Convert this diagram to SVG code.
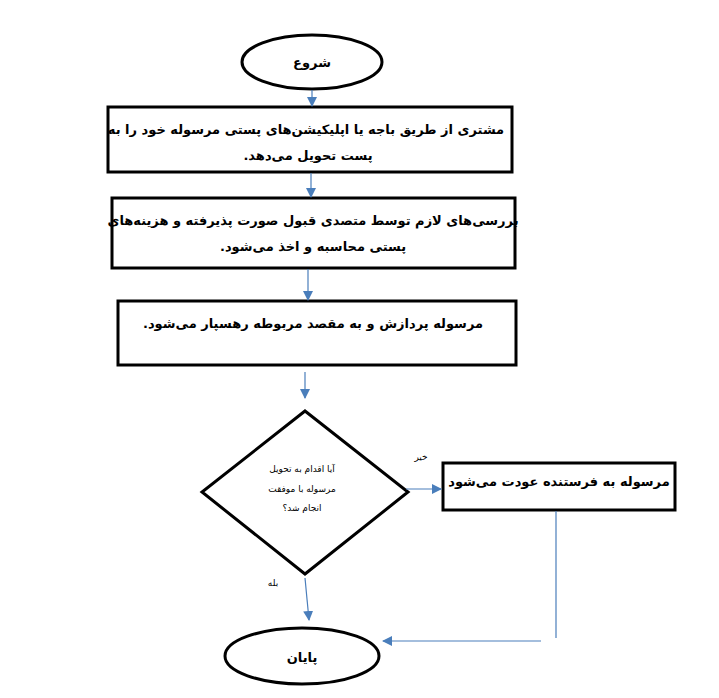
<svg xmlns="http://www.w3.org/2000/svg" width="719" height="698" viewBox="0 0 719 698">
<style>
.s{fill:#fff;stroke:#000;stroke-width:3}
.t{font-family:"DejaVu Sans",sans-serif;font-size:13px;font-weight:bold;text-anchor:middle;fill:#000}
.sm{font-family:"DejaVu Sans",sans-serif;font-size:9px;text-anchor:middle;fill:#000}
.c{stroke:#4a7ebb;stroke-width:1.2;fill:none}
</style>
<defs><marker id="a" markerWidth="10" markerHeight="10" refX="9" refY="5" orient="auto" markerUnits="userSpaceOnUse"><path d="M0,0L10,5L0,10z" fill="#4a7ebb"/></marker></defs>
<rect width="719" height="698" fill="#fff"/>
<g id="start"><ellipse class="s" cx="312" cy="62" rx="70" ry="27"/><text class="t" x="312" y="67" direction="rtl">شروع</text></g>
<g id="b1"><rect class="s" x="108" y="107" width="404" height="65"/><text class="t" x="306" y="134" direction="rtl">مشتری از طریق باجه یا اپلیکیشن‌های پستی مرسوله خود را به</text><text class="t" x="308" y="160" direction="rtl">پست تحویل می‌دهد.</text></g>
<g id="b2"><rect class="s" x="112" y="198" width="403" height="70"/><text class="t" x="313" y="225" direction="rtl">بررسی‌های لازم توسط متصدی قبول صورت پذیرفته و هزینه‌های</text><text class="t" x="313" y="251" direction="rtl">پستی محاسبه و اخذ می‌شود.</text></g>
<g id="b3"><rect class="s" x="118" y="301" width="398" height="64"/><text class="t" x="313" y="328" direction="rtl">مرسوله پردازش و به مقصد مربوطه رهسپار می‌شود.</text></g>
<g id="d"><polygon class="s" points="305,411 408,492 305,574 202,492"/><text class="sm" x="302" y="472" direction="rtl">آیا اقدام به تحویل</text><text class="sm" x="302" y="492" direction="rtl">مرسوله با موفقت</text><text class="sm" x="302" y="511" direction="rtl">انجام شد؟</text></g>
<g id="b4"><rect class="s" x="443" y="463" width="232" height="47"/><text class="t" x="559" y="486" direction="rtl">مرسوله به فرستنده عودت می‌شود</text></g>
<g id="end"><ellipse class="s" cx="302" cy="656" rx="77" ry="28"/><text class="t" x="302" y="662" direction="rtl">پایان</text></g>
<g id="connectors">
<line class="c" x1="312" y1="90" x2="312" y2="106" marker-end="url(#a)"/>
<line class="c" x1="311" y1="173" x2="311" y2="197" marker-end="url(#a)"/>
<line class="c" x1="308" y1="269" x2="308" y2="300" marker-end="url(#a)"/>
<line class="c" x1="305" y1="372" x2="305" y2="398" marker-end="url(#a)"/>
<line class="c" x1="406" y1="489" x2="441" y2="489" marker-end="url(#a)"/>
<line class="c" x1="305" y1="578" x2="309" y2="620" marker-end="url(#a)"/>
<line class="c" x1="556" y1="511" x2="556" y2="638"/>
<line class="c" x1="541" y1="641" x2="383" y2="641" marker-end="url(#a)"/>
<text class="sm" x="421" y="460">خیر</text>
<text class="sm" x="273" y="586">بله</text>
</g>
</svg>
